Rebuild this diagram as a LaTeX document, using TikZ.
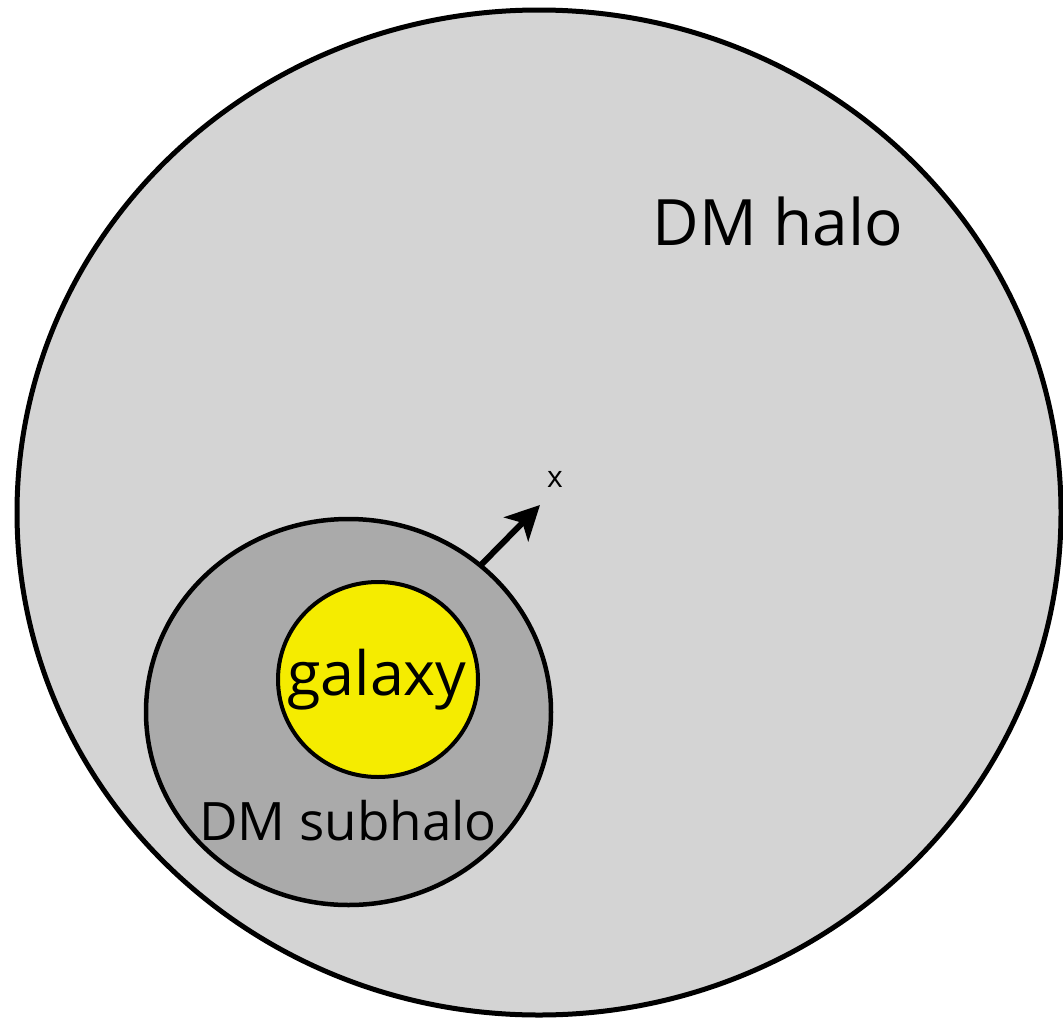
\documentclass[tikz,border=0pt]{standalone}
\usepackage{fontspec}
\setmainfont{Open Sans}
\usetikzlibrary{shapes.geometric,arrows.meta}
\definecolor{halogray}{RGB}{212,212,212}
\definecolor{subgray}{RGB}{170,170,170}
\definecolor{galyellow}{RGB}{245,236,0}
\begin{document}
\begin{tikzpicture}[x=1pt,y=-1pt,
  blob/.style={ellipse,draw=black,inner sep=0pt,outer sep=0pt},
  lbl/.style={anchor=base,inner sep=0pt}]
\useasboundingbox (0,0) rectangle (1063,1020);
\node[blob,fill=halogray,line width=5pt,minimum width=1044pt,minimum height=1005pt] (halo) at (539,512.5) {};
\node[blob,fill=subgray,line width=4.5pt,minimum width=405pt,minimum height=386pt] (sub) at (348.5,712) {};
\node[blob,fill=galyellow,line width=4pt,minimum width=200pt,minimum height=195pt] (gal) at (378,679.5) {};
\node[lbl,font=\fontsize{64}{70}\selectfont] (halolbl) at (778,245) {DM halo};
\node[lbl,font=\fontsize{53}{60}\selectfont] (sublbl) at (348,840) {DM subhalo};
\node[lbl,font=\fontsize{61}{66}\selectfont] (gallbl) at (377,695) {galaxy};
\node[lbl,font=\fontsize{30}{34}\selectfont] (xlbl) at (555,487) {x};
\coordinate (tip) at (540,505);
\draw[line width=6pt,-{Stealth[length=34pt,width=34pt,inset=9pt]}] (sub.48) -- (tip);
\end{tikzpicture}
\end{document}
